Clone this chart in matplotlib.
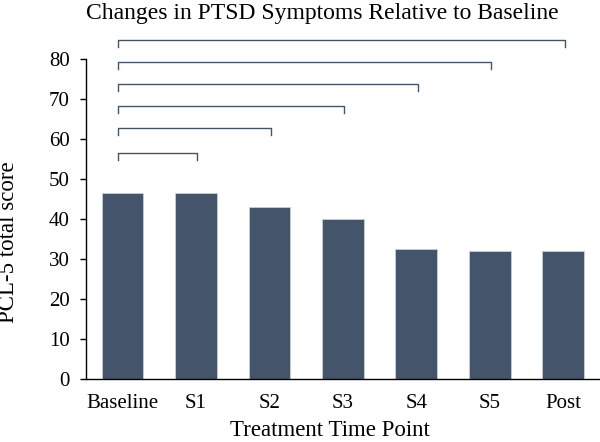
import numpy as np
import matplotlib
matplotlib.use("Agg")
import matplotlib.pyplot as plt

plt.rcParams["font.family"] = ["Liberation Serif", "DejaVu Serif"]

# data
time_points = ["Baseline", "S1", "S2", "S3", "S4", "S5", "Post"]
pcl5_scores = [46.6, 46.5, 43.1, 39.9, 32.5, 32.1, 32.1]
# comparison brackets: (target index, bracket height)
bracket_targets = [1, 2, 3, 4, 5, 6]
bracket_heights = [56.5, 62.7, 68.3, 73.8, 79.3, 84.8]

BAR_COLOR = "#44546A"

fig = plt.figure(figsize=(6.0, 4.42), dpi=100)
ax = fig.add_axes([0.143, 0.1425, 0.857, 0.724])

x = np.arange(len(time_points))
ax.bar(x, pcl5_scores, width=0.57, color=BAR_COLOR, edgecolor="#c9ced6",
       linewidth=0.6, zorder=2)

# significance brackets from Baseline to each time point
tick_len = 1.8
for k, h in zip(bracket_targets, bracket_heights):
    ax.plot([x[0] - 0.06, x[0] - 0.06, x[k] + 0.02, x[k] + 0.02],
            [h - tick_len, h, h, h - tick_len],
            color=BAR_COLOR, linewidth=1.0, clip_on=False, zorder=3)

ax.set_xlim(-0.5, 6.5)
ax.set_ylim(0, 80)
ax.set_yticks(range(0, 81, 10))
ax.set_xticks(x)
ax.set_xticklabels(time_points)
ax.tick_params(axis="x", length=0, pad=11, labelsize=15)
ax.tick_params(axis="y", length=4.5, width=1, direction="out", pad=7,
               labelsize=15)

for side in ["top", "right"]:
    ax.spines[side].set_visible(False)
for side in ["left", "bottom"]:
    ax.spines[side].set_linewidth(1.0)
    ax.spines[side].set_color("black")

fig.text(0.55, 1 - 431 / 442, "Treatment Time Point", ha="center",
         va="center", fontsize=16.5)
fig.text(9 / 600, 1 - 242 / 442, "PCL-5 total score", ha="center",
         va="center", rotation=90, fontsize=16.5)
fig.text(0.537, 1 - 14 / 442, "Changes in PTSD Symptoms Relative to Baseline",
         ha="center", va="center", fontsize=17)

fig.savefig("out.png", dpi=100)
